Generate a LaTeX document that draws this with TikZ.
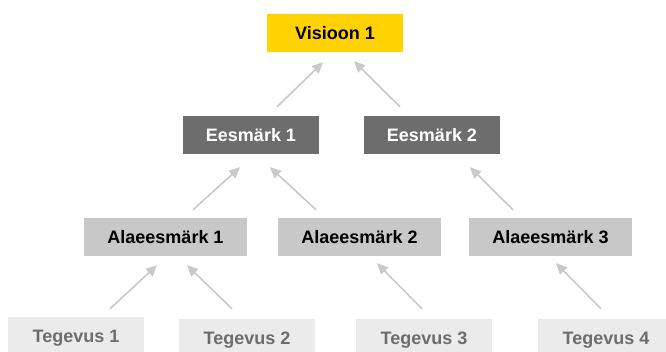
\documentclass[tikz,border=0pt]{standalone}
\usepackage{fontspec}
\setmainfont{Liberation Sans}
\usetikzlibrary{arrows.meta, calc}

\definecolor{visioonyellow}{HTML}{FFD200}
\definecolor{goalgray}{HTML}{6D6D6D}
\definecolor{subgoalgray}{HTML}{C8C8C8}
\definecolor{taskgray}{HTML}{EBEBEB}
\definecolor{tasktext}{HTML}{6D6D6D}
\definecolor{arrowgray}{HTML}{C8C9C9}

\begin{document}
\begin{tikzpicture}[
      x=1pt, y=-1pt,
      box/.style={rectangle, inner sep=0pt, minimum width=136pt, minimum height=38pt,
        text height=12.9pt, text depth=0pt, font=\fontsize{18}{22}\selectfont\bfseries},
      vision/.style={box, fill=visioonyellow, text=black},
      goal/.style={box, fill=goalgray, text=white},
      subgoal/.style={box, fill=subgoalgray, text=black, minimum width=163pt},
      task/.style={box, fill=taskgray, text=tasktext},
      arrow/.style={-{Triangle[length=11pt, width=10pt]}, line width=1.6pt, draw=arrowgray}
    ]
    \useasboundingbox (0,0) rectangle (666,351);
    \clip (0,0) rectangle (666,351);

    \node[vision] (visioon) at (335,33) {Visioon 1};

    \node[goal] (eesmark1) at (251,135) {Eesmärk 1};
    \node[goal] (eesmark2) at (432,135) {Eesmärk 2};

    \node[subgoal] (alaeesmark1) at (165.5,237) {Alaeesmärk 1};
    \node[subgoal] (alaeesmark2) at (359.5,237) {Alaeesmärk 2};
    \node[subgoal] (alaeesmark3) at (550.5,237) {Alaeesmärk 3};

    \node[task] (tegevus1) at (76,336) {Tegevus 1};
    \node[task] (tegevus2) at (247,338) {Tegevus 2};
    \node[task] (tegevus3) at (424,338) {Tegevus 3};
    \node[task] (tegevus4) at (606,338) {Tegevus 4};

    % goals -> vision
    \draw[arrow] ($(eesmark1.north)+(26,-9)$) -- ($(visioon.south)+(-12,10)$);
    \draw[arrow] ($(eesmark2.north)+(-32,-9)$) -- ($(visioon.south)+(19,9)$);

    % subgoals -> goals
    \draw[arrow] ($(alaeesmark1.north)+(27.5,-8)$) -- ($(eesmark1.south)+(-11,13)$);
    \draw[arrow] ($(alaeesmark2.north)+(-43.5,-8)$) -- ($(eesmark1.south)+(19,13)$);
    \draw[arrow] ($(alaeesmark3.north)+(-37.5,-8)$) -- ($(eesmark2.south)+(38,13)$);

    % tasks -> subgoals
    \draw[arrow] ($(tegevus1.north)+(34,-8)$) -- ($(alaeesmark1.south)+(-8.5,9)$);
    \draw[arrow] ($(tegevus2.north)+(-15,-10)$) -- ($(alaeesmark1.south)+(21.5,9)$);
    \draw[arrow] ($(tegevus3.north)+(-2,-10)$) -- ($(alaeesmark2.south)+(17.5,7)$);
    \draw[arrow] ($(tegevus4.north)+(-5,-10)$) -- ($(alaeesmark3.south)+(5.5,7)$);
  \end{tikzpicture}
\end{document}
